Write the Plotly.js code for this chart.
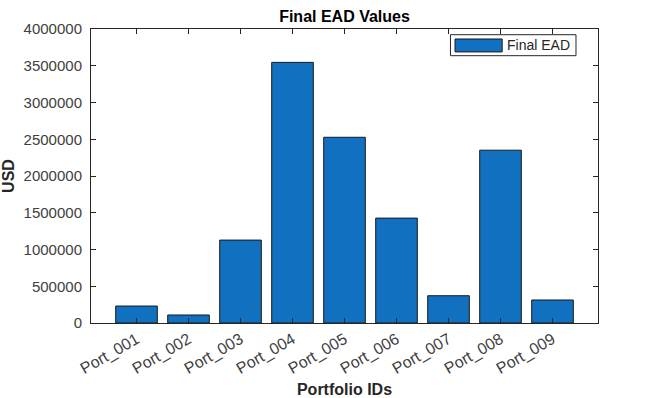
<!DOCTYPE html>
<html>
<head>
<meta charset="utf-8">
<script src="https://cdn.plot.ly/plotly-3.0.1.min.js"></script>
<style>html,body{margin:0;padding:0;background:#fff}#chart{width:661px;height:398px}</style>
</head>
<body>
<div id="chart"></div>
<script>
const portfolioIds = ["Port_001","Port_002","Port_003","Port_004","Port_005","Port_006","Port_007","Port_008","Port_009"];
const finalEAD = [231000, 109000, 1128000, 3546000, 2527000, 1427000, 371000, 2351000, 313000];
const yTickVals = [0,500000,1000000,1500000,2000000,2500000,3000000,3500000,4000000];
const yTickText = ["0","500000","1000000","1500000","2000000","2500000","3000000","3500000","4000000"];
const seriesName = "Final EAD";

const axisColor = "#262626";
const barColor = "#1170BF";
const fontFamily = "'Liberation Sans', Arial, sans-serif";

const trace = {
  type: "bar",
  x: portfolioIds.map((_, i) => i),
  y: finalEAD,
  name: seriesName,
  width: 0.8,
  marker: {color: barColor, line: {color: "#1a1a1a", width: 1}},
  showlegend: false,
  hoverinfo: "x+y"
};

const layout = {
  width: 661, height: 398,
  margin: {l: 91, r: 63, t: 29, b: 75, pad: 0},
  paper_bgcolor: "#ffffff", plot_bgcolor: "#ffffff",
  font: {family: fontFamily, color: axisColor, size: 15},
  title: {text: "<b>Final EAD Values</b>", x: 0.5, xref: "paper", xanchor: "center", y: 0.96, yref: "container", yanchor: "middle", font: {size: 16, color: "#000000"}},
  xaxis: {
    range: [-0.875, 8.875],
    tickmode: "array", tickvals: portfolioIds.map((_, i) => i), ticktext: portfolioIds,
    tickangle: -30, ticks: "inside", ticklen: 5, tickcolor: axisColor, tickwidth: 1,
    showline: true, linecolor: axisColor, linewidth: 1, mirror: "ticks",
    showgrid: false, zeroline: false,
    tickfont: {size: 16, color: "#404040"},
    title: {text: "<b>Portfolio IDs</b>", font: {size: 16, color: axisColor}, standoff: 10}
  },
  yaxis: {
    range: [0, 4000000],
    tickmode: "array", tickvals: yTickVals, ticktext: yTickText,
    ticks: "inside", ticklen: 5, tickcolor: axisColor, tickwidth: 1,
    ticklabelstandoff: 5,
    showline: true, linecolor: axisColor, linewidth: 1, mirror: "ticks",
    showgrid: false, zeroline: false,
    tickfont: {size: 15, color: "#404040"},
    title: {text: "<b>USD</b>", font: {size: 16, color: axisColor}, standoff: 4}
  },
  shapes: [
    {type: "rect", xref: "paper", yref: "paper", x0: 0.709, x1: 0.9566, y0: 0.9092, y1: 0.9806,
     line: {color: axisColor, width: 1}, fillcolor: "#ffffff", layer: "above"},
    {type: "rect", xref: "paper", yref: "paper", x0: 0.718, x1: 0.811, y0: 0.922, y1: 0.966,
     line: {color: "#1a1a1a", width: 1}, fillcolor: barColor, layer: "above"}
  ],
  annotations: [
    {text: seriesName, xref: "paper", yref: "paper", x: 0.8166, y: 0.944, xanchor: "left", yanchor: "middle",
     showarrow: false, font: {size: 14, color: "#262626"}}
  ]
};

Plotly.newPlot("chart", [trace], layout, {staticPlot: true, displayModeBar: false});
</script>
</body>
</html>
